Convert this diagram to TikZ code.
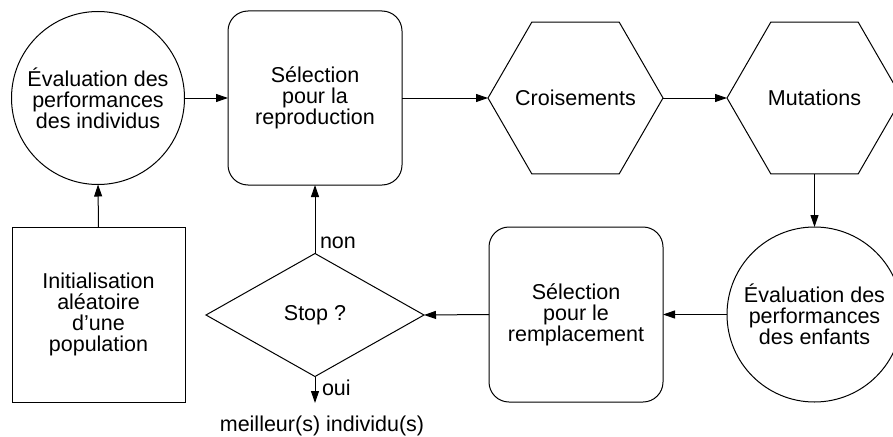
\documentclass[tikz,border=0pt]{standalone}
\usepackage{fontspec}
\setmainfont{Liberation Sans}
\usetikzlibrary{shapes.geometric,arrows.meta}
\begin{document}
\begin{tikzpicture}[x=1pt,y=-1pt,
  every node/.style={font=\fontsize{21.5}{21}\selectfont, align=center, inner sep=0pt, outer sep=0pt},
  shp/.style={draw, line width=1pt},
  circ/.style={shp, circle, minimum size=173pt},
  rbox/.style={shp, rectangle, rounded corners=20pt, minimum width=174pt, minimum height=174pt},
  sbox/.style={shp, rectangle, minimum width=173pt, minimum height=175pt},
  hexa/.style={shp, regular polygon, regular polygon sides=6, minimum size=175pt},
  dia/.style={shp, diamond, minimum width=218pt, minimum height=123pt},
  arr/.style={-{Triangle[length=12pt,width=8pt]}, line width=1pt}
]
\useasboundingbox (0,0) rectangle (893,436);

\node[circ] (ev1) at (98,98) {Évaluation des\\performances\\des individus};
\node[rbox] (sel1) at (315,98) {Sélection\\pour la\\reproduction};
\node[hexa] (crois) at (575.5,98) {};
\node (croist) at (crois.center) {Croisements};
\node[hexa] (mut) at (814.5,98) {};
\node (mutt) at (mut.center) {Mutations};
\node[circ, minimum size=175pt] (ev2) at (814.5,314.5) {Évaluation des\\performances\\des enfants};
\node[rbox, minimum height=175pt] (sel2) at (576,314.5) {Sélection\\pour le\\remplacement};
\node[dia] (stop) at (315,315) {Stop ?};
\node[sbox] (init) at (98.5,314.5) {Initialisation\\aléatoire\\d’une\\population};
\coordinate (endp) at (315,403);
\node (best) at (322,426) {meilleur(s) individu(s)};
\node[anchor=west] (non) at (320,243) {non};
\node[anchor=west] (oui) at (322,388) {oui};

\draw[arr] (init.north) -- (ev1.south);
\draw[arr] (ev1.east) -- (sel1.west);
\draw[arr] (sel1.east) -- (crois.west);
\draw[arr] (crois.east) -- (mut.west);
\draw[arr] (mut.south) -- (ev2.north);
\draw[arr] (ev2.west) -- (sel2.east);
\draw[arr] (sel2.west) -- (stop.east);
\draw[arr] (stop.north) -- (sel1.south);
\draw[arr] (stop.south) -- (endp);
\end{tikzpicture}
\end{document}
